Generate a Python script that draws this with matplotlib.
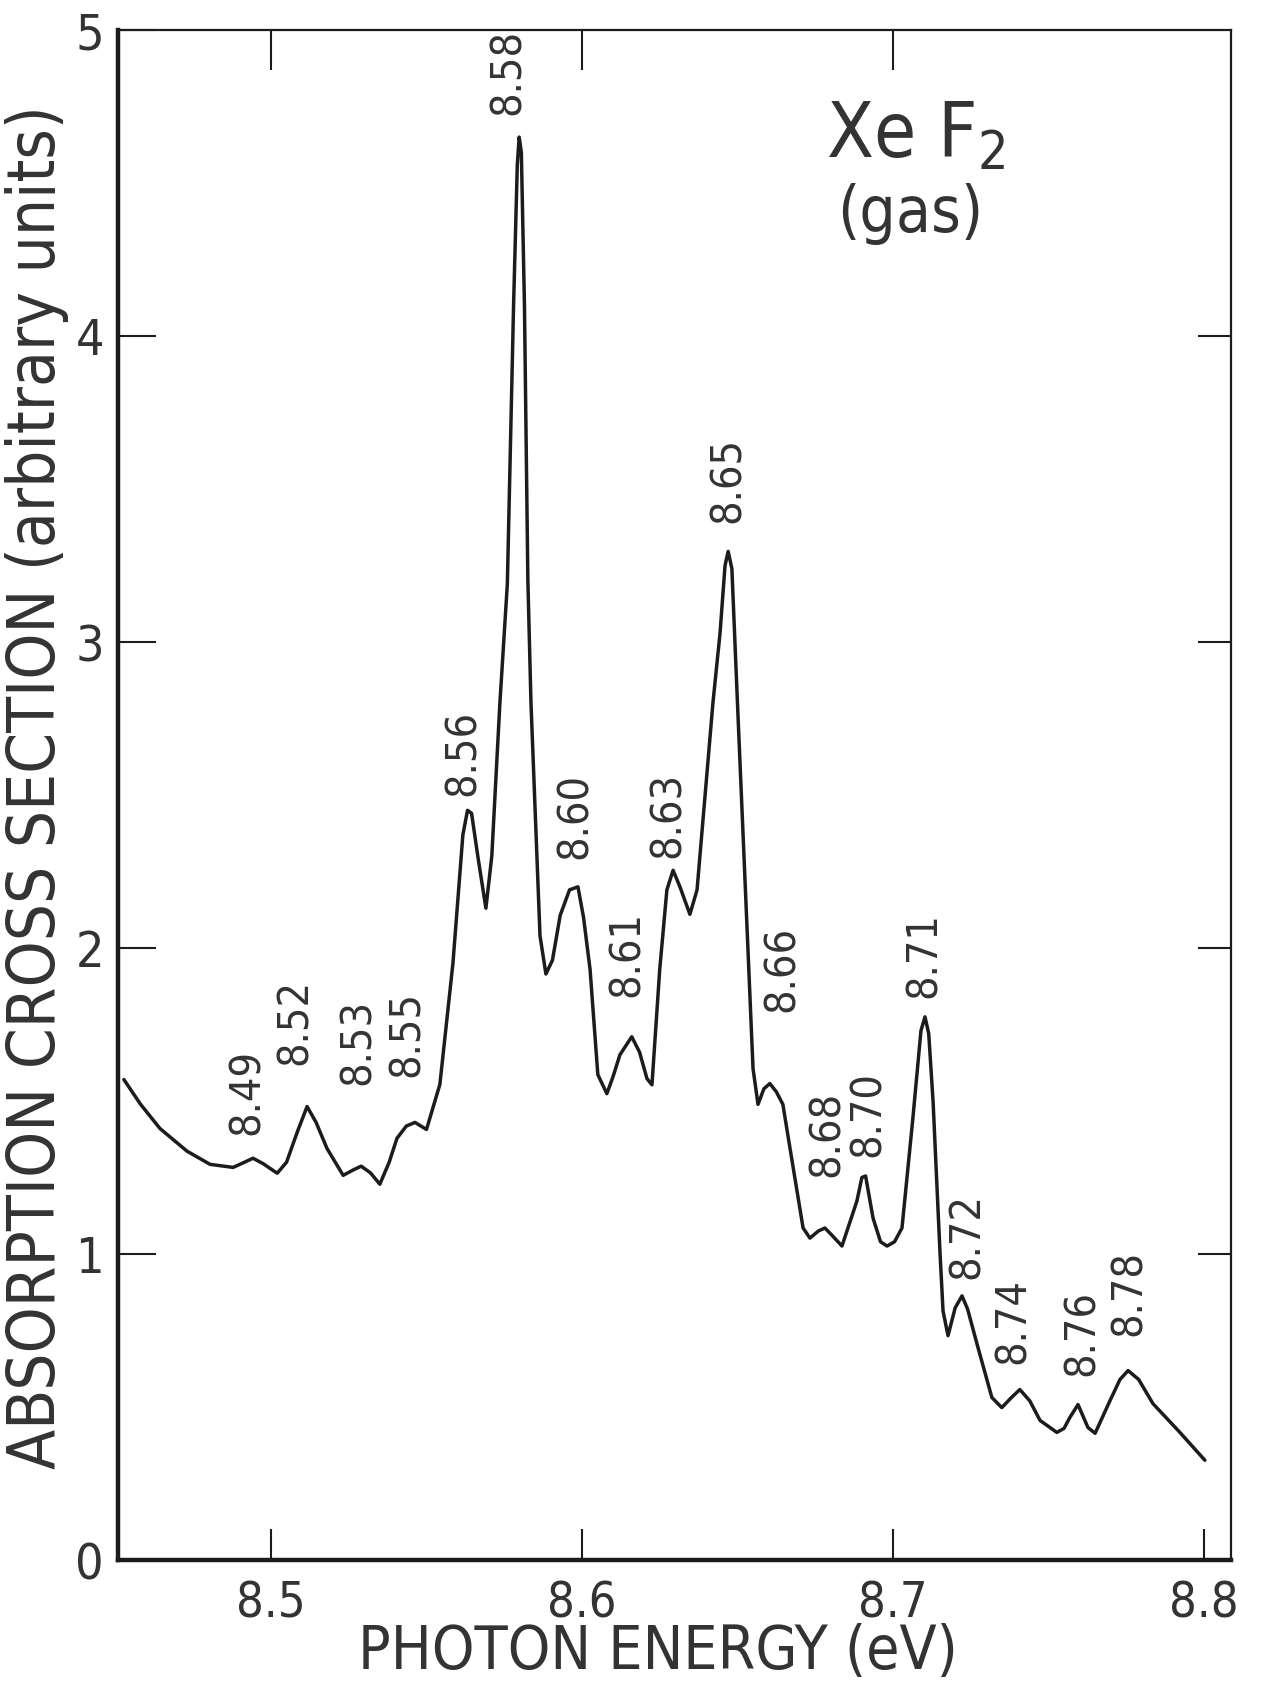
import matplotlib
matplotlib.use("Agg")
import matplotlib.pyplot as plt

# XeF2 gas absorption spectrum
energy = [8.4527, 8.4580, 8.4643, 8.4730, 8.4804, 8.4878, 8.4915, 8.4942, 8.4975,
          8.5020, 8.5050, 8.5085, 8.5116, 8.5145, 8.5180, 8.5232, 8.5265, 8.5290,
          8.5320, 8.5350, 8.5380, 8.5405, 8.5435, 8.5463, 8.5500, 8.5543, 8.5585,
          8.5617, 8.5632, 8.5645, 8.5665, 8.5691, 8.5710, 8.5736, 8.5760, 8.5780,
          8.5792, 8.5798, 8.5805, 8.5815, 8.5826, 8.5836, 8.5865, 8.5884, 8.5905,
          8.5930, 8.5960, 8.5987, 8.6005, 8.6026, 8.6051, 8.6080, 8.6100, 8.6122,
          8.6160, 8.6185, 8.6209, 8.6225, 8.6250, 8.6273, 8.6293, 8.6315, 8.6347,
          8.6370, 8.6421, 8.6444, 8.6460, 8.6470, 8.6482, 8.6500, 8.6550, 8.6566,
          8.6585, 8.6604, 8.6625, 8.6646, 8.6669, 8.6711, 8.6733, 8.6760, 8.6781,
          8.6805, 8.6836, 8.6884, 8.6900, 8.6912, 8.6936, 8.6960, 8.6981, 8.7005,
          8.7029, 8.7064, 8.7090, 8.7103, 8.7115, 8.7129, 8.7151, 8.7161, 8.7177,
          8.7200, 8.7222, 8.7240, 8.7270, 8.7318, 8.7350, 8.7380, 8.7408, 8.7440,
          8.7473, 8.7527, 8.7550, 8.7569, 8.7595, 8.7627, 8.7650, 8.7698, 8.7730,
          8.7756, 8.7790, 8.7836, 8.7920, 8.8003]
cross_section = [1.570, 1.490, 1.410, 1.336, 1.293, 1.283, 1.300, 1.313, 1.295,
                 1.264, 1.300, 1.400, 1.482, 1.430, 1.345, 1.257, 1.275, 1.287,
                 1.265, 1.228, 1.300, 1.378, 1.418, 1.430, 1.407, 1.554, 1.950,
                 2.370, 2.450, 2.440, 2.300, 2.130, 2.300, 2.800, 3.190, 4.100,
                 4.560, 4.650, 4.600, 4.100, 3.200, 2.800, 2.040, 1.915, 1.960,
                 2.107, 2.190, 2.200, 2.100, 1.930, 1.586, 1.524, 1.580, 1.651,
                 1.710, 1.660, 1.573, 1.553, 1.930, 2.190, 2.254, 2.200, 2.110,
                 2.190, 2.800, 3.030, 3.250, 3.296, 3.240, 2.800, 1.606, 1.489,
                 1.540, 1.557, 1.530, 1.489, 1.345, 1.085, 1.052, 1.075, 1.085,
                 1.060, 1.026, 1.173, 1.250, 1.255, 1.117, 1.040, 1.026, 1.040,
                 1.085, 1.443, 1.730, 1.775, 1.720, 1.498, 1.010, 0.814, 0.733,
                 0.824, 0.863, 0.820, 0.707, 0.531, 0.498, 0.530, 0.557, 0.520,
                 0.456, 0.417, 0.430, 0.466, 0.508, 0.433, 0.414, 0.521, 0.590,
                 0.619, 0.590, 0.511, 0.420, 0.326]

peak_labels = ["8.49", "8.52", "8.53", "8.55", "8.56", "8.58", "8.60", "8.61", "8.63",
               "8.65", "8.66", "8.68", "8.70", "8.71", "8.72", "8.74", "8.76", "8.78"]
# where each label sits (data coords)
label_xy = [(8.4923, 1.531), (8.5077, 1.759), (8.5280, 1.694), (8.5437, 1.720),
            (8.5617, 2.638), (8.5762, 4.863), (8.5977, 2.433), (8.6145, 1.980),
            (8.6277, 2.436), (8.6470, 3.528), (8.6643, 1.932), (8.6788, 1.391),
            (8.6920, 1.456), (8.7100, 1.977), (8.7238, 1.059), (8.7386, 0.782),
            (8.7608, 0.743), (8.7759, 0.873)]

x_ticks = [8.5, 8.6, 8.7, 8.8]
y_ticks = [0, 1, 2, 3, 4, 5]

INK = "#1c1c1c"
TXT = "#333333"


def main():
    plt.rcParams["font.family"] = ["DejaVu Sans"]
    plt.rcParams["font.stretch"] = "condensed"
    plt.rcParams["mathtext.fontset"] = "dejavusans"
    W, H = 1276, 1702
    fig = plt.figure(figsize=(W / 100, H / 100), dpi=100)
    ax = fig.add_axes([118 / W, 142 / H, (1231 - 118) / W, 1530 / H])

    ax.plot(energy, cross_section, color=INK, lw=2.5, solid_joinstyle="round",
            solid_capstyle="round")
    ax.set_xlim(8.4508, 8.8087)
    ax.set_ylim(0, 5)

    ax.set_xticks(x_ticks)
    ax.set_xticklabels([f"{v:.1f}" for v in x_ticks])
    ax.set_yticks(y_ticks)
    ax.set_yticklabels([str(v) for v in y_ticks])
    ax.tick_params(axis="x", direction="in", length=22, width=1.5, color=INK,
                   labelsize=35, labelcolor=TXT, pad=14)
    ax.tick_params(axis="y", direction="in", length=27, width=1.5, color=INK,
                   labelsize=36, labelcolor=TXT, pad=10)

    for side, lw in [("left", 3.2), ("bottom", 3.2), ("top", 1.6), ("right", 1.6)]:
        ax.spines[side].set_linewidth(lw)
        ax.spines[side].set_color(INK)

    # short inward ticks on top and right
    ax_t = ax.twiny()
    ax_t.set_xlim(ax.get_xlim())
    ax_t.set_xticks([8.5, 8.6, 8.7])
    ax_t.tick_params(axis="x", direction="in", length=29, width=1.5, color=INK,
                     labeltop=False)
    ax_r = ax.twinx()
    ax_r.set_ylim(ax.get_ylim())
    ax_r.set_yticks([1, 2, 3, 4])
    ax_r.tick_params(axis="y", direction="in", length=24, width=1.5, color=INK,
                     labelright=False)
    for a in (ax_t, ax_r):
        for s in a.spines.values():
            s.set_visible(False)

    ax.set_xlabel("PHOTON ENERGY (eV)", fontsize=43.5, color=TXT)
    ax.xaxis.set_label_coords(0.485, -0.041)
    ax.set_ylabel("ABSORPTION CROSS SECTION (arbitrary units)", fontsize=47,
                  color=TXT)
    ax.yaxis.set_label_coords(-0.044, 0.505)

    for lab, (lx, ly) in zip(peak_labels, label_xy):
        ax.text(lx, ly, lab, rotation=90, ha="center", va="center",
                fontsize=31, color=TXT)

    fig.text(826 / W, 1 - 157 / H, r"Xe F$_2$", fontsize=55, color=TXT,
             ha="left", va="baseline")
    fig.text(910 / W, 1 - 214 / H, "(gas)", fontsize=46, color=TXT,
             ha="center", va="center")

    fig.savefig("out.png", dpi=100)
    plt.close(fig)


if __name__ == "__main__":
    main()
